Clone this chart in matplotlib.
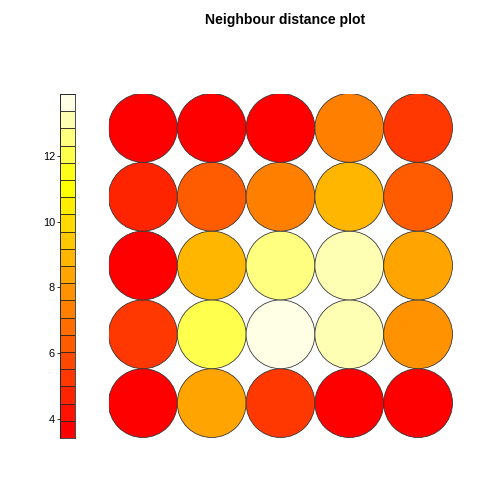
import numpy as np
import matplotlib
matplotlib.use("Agg")
import matplotlib.pyplot as plt
from matplotlib.colors import hsv_to_rgb
from matplotlib.patches import Circle

plt.rcParams['font.family'] = ['Liberation Sans', 'DejaVu Sans']

# neighbour distances of the 5x5 SOM, unit 1 = bottom left, rows go upward
row1 = [3.43, 8.40, 5.20, 3.60, 3.80]
row2 = [5.30, 12.10, 13.87, 13.05, 7.90]
row3 = [3.70, 8.95, 12.50, 13.10, 8.45]
row4 = [4.70, 6.30, 7.40, 8.95, 6.25]
row5 = [3.50, 3.60, 3.55, 7.35, 5.25]
dist = np.array([row1, row2, row3, row4, row5])
colorbar_ticks = [4, 6, 8, 10, 12]
n_colors = 20
title = "Neighbour distance plot"


# R's heat.colors(n)
def heat_colors(n):
    j = n // 4
    i = n - j
    hues = np.linspace(0, 1 / 6, i)
    cols = [hsv_to_rgb((h, 1, 1)) for h in hues]
    sats = np.linspace(1 - 1 / (2 * j), 1 / (2 * j), j)
    cols += [hsv_to_rgb((1 / 6, s, 1)) for s in sats]
    return cols


palette = heat_colors(n_colors)
vmin, vmax = dist.min(), dist.max()
breaks = np.linspace(vmin, vmax, n_colors + 1)
idx = np.clip(np.searchsorted(breaks, dist, side='left') - 1, 0, n_colors - 1)

W = H = 504
fig = plt.figure(figsize=(W / 72, H / 72), dpi=72)

# circles
ax = fig.add_axes([108.5 / W, (H - 437.5) / H, 344 / W, 344 / H])
for r in range(dist.shape[0]):
    for c in range(dist.shape[1]):
        ax.add_patch(Circle((c + 1, r + 1), 0.5, facecolor=palette[idx[r, c]],
                            edgecolor='#333333', linewidth=0.8))
ax.set_xlim(0.5, 5.5)
ax.set_ylim(0.5, 5.5)
ax.axis('off')

# colour key
cax = fig.add_axes([60 / W, (H - 438) / H, 14.5 / W, 344 / H])
cax.bar(0, np.diff(breaks), bottom=breaks[:-1], width=1, color=palette,
        edgecolor='#222222', linewidth=0.8)
cax.set_xlim(-0.5, 0.5)
cax.set_ylim(vmin, vmax)
cax.set_xticks([])
cax.set_yticks(colorbar_ticks)
cax.tick_params(axis='y', length=3, width=0.8, labelsize=11, pad=2)
for s in cax.spines.values():
    s.set_linewidth(0.8)
    s.set_color('#222222')

fig.text(285 / W, 1 - 20 / H, title, ha='center', va='center',
         fontsize=14, fontweight='bold')

fig.savefig("out.png", dpi=72)
